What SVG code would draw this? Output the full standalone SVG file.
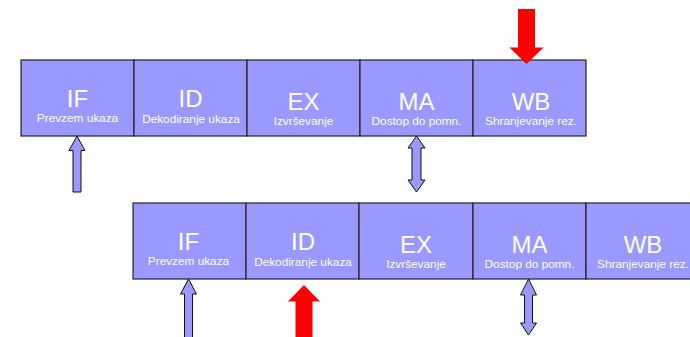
<svg xmlns="http://www.w3.org/2000/svg" width="690" height="337" viewBox="0 0 690 337">
<style>
.box{fill:#9999FF;stroke:#222;stroke-width:1.2}
.big{font-family:"Liberation Sans",Arial,sans-serif;font-size:24px;fill:#fff;text-anchor:middle}
.small{font-family:"Liberation Sans",Arial,sans-serif;font-size:11.8px;fill:#fff;text-anchor:middle}
.arr{fill:#9999FF;stroke:#111;stroke-width:1}
.red{fill:#FF0000}
</style>
<rect width="690" height="337" fill="#fff"/>
<g id="row1">
<g id="r1-if"><rect class="box" x="21" y="60" width="113" height="76"/><text class="big" x="77.5" y="107">IF</text><text class="small" x="77.5" y="122">Prevzem ukaza</text></g>
<g id="r1-id"><rect class="box" x="134" y="60" width="113" height="76"/><text class="big" x="190.5" y="107">ID</text><text class="small" x="191" y="122.5">Dekodiranje ukaza</text></g>
<g id="r1-ex"><rect class="box" x="247" y="60" width="113" height="76"/><text class="big" x="303.5" y="109.5">EX</text><text class="small" x="303.5" y="124.5">Izvrševanje</text></g>
<g id="r1-ma"><rect class="box" x="360" y="60" width="113" height="76"/><text class="big" x="416.5" y="110">MA</text><text class="small" x="416.5" y="125">Dostop do pomn.</text></g>
<g id="r1-wb"><rect class="box" x="473" y="60" width="113" height="76"/><text class="big" x="531" y="110">WB</text><text class="small" x="531" y="125">Shranjevanje rez.</text></g>
</g>
<g id="row2">
<g id="r2-if"><rect class="box" x="133" y="203" width="113" height="76"/><text class="big" x="188.5" y="250">IF</text><text class="small" x="188.5" y="265">Prevzem ukaza</text></g>
<g id="r2-id"><rect class="box" x="246" y="203" width="113" height="76"/><text class="big" x="303" y="250">ID</text><text class="small" x="303" y="265.5">Dekodiranje ukaza</text></g>
<g id="r2-ex"><rect class="box" x="359" y="203" width="114" height="76"/><text class="big" x="416" y="252.5">EX</text><text class="small" x="416" y="267.5">Izvrševanje</text></g>
<g id="r2-ma"><rect class="box" x="473" y="203" width="113" height="76"/><text class="big" x="529.5" y="253">MA</text><text class="small" x="529.5" y="268">Dostop do pomn.</text></g>
<g id="r2-wb"><rect class="box" x="586" y="203" width="113" height="76"/><text class="big" x="643" y="253">WB</text><text class="small" x="643" y="268">Shranjevanje rez.</text></g>
</g>
<g id="connectors">
<polygon class="arr" points="77,136 85,150.5 81,150.5 81,192 73,192 73,150.5 69,150.5"/>
<polygon class="arr" points="416.5,136 425,148 421,148 421,180 425,180 416.5,192 408,180 412,180 412,148 408,148"/>
<polygon class="red" points="518,9 535,9 535,47.5 543.5,47.5 526.5,64 509.5,47.5 518,47.5"/>
<polygon class="arr" points="188.5,279 196.5,294 192.5,294 192.5,340 184.5,340 184.5,294 180.5,294"/>
<polygon class="red" points="304,285 320,301.5 312.5,301.5 312.5,340 295.5,340 295.5,301.5 288,301.5"/>
<polygon class="arr" points="528.5,279 536.5,295 532.5,295 532.5,323 536.5,323 528.5,335 520.5,323 524.5,323 524.5,295 520.5,295"/>
</g>
</svg>
